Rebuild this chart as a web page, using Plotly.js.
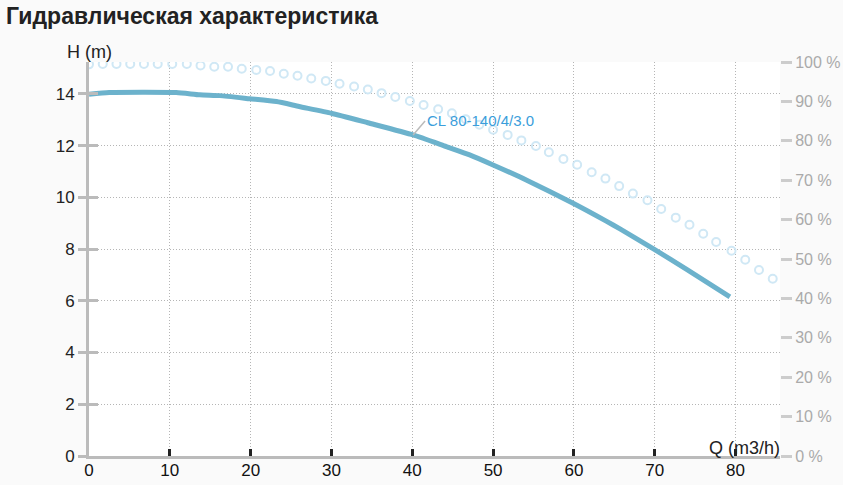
<!DOCTYPE html>
<html>
<head>
<meta charset="utf-8">
<script src="https://cdn.plot.ly/plotly-3.0.1.min.js"></script>
<style>
  html, body { margin: 0; padding: 0; background: #fafafa; }
  #chart { width: 843px; height: 485px; }
</style>
</head>
<body>
<div id="chart"></div>
<script>
// Кривая напора H(Q)
const flowQ = [0, 2.5, 10.8, 13.7, 16.2, 19.9, 23.2, 26.0, 30.0, 34.5, 40.1, 44.2, 47.1, 50.0, 54.1, 59.9, 64.0, 65.7, 70.0, 73.9, 79.3];
const headH = [13.98, 14.05, 14.05, 13.96, 13.93, 13.81, 13.70, 13.51, 13.25, 12.88, 12.41, 11.96, 11.64, 11.25, 10.67, 9.77, 9.08, 8.78, 7.98, 7.22, 6.15];

// Кривая КПД (кружки), %
const effQ = [0, 1.7, 3.4, 5.1, 6.8, 8.5, 10.3, 12.1, 13.8, 15.5, 17.2, 18.9, 20.7, 22.4, 24.1, 25.8, 27.5, 29.3, 31.0, 32.8,
              34.5, 36.2, 37.9, 39.7, 41.4, 43.2, 44.9, 46.6, 48.3, 50.0, 51.8, 53.5, 55.3, 56.9, 58.7, 60.4, 62.2, 63.9, 65.6, 67.3,
              69.1, 70.8, 72.6, 74.3, 76.0, 77.6, 79.5, 81.2, 82.9, 84.6];
const effPct = [99.4, 99.5, 99.5, 99.5, 99.5, 99.5, 99.5, 99.5, 99.1, 98.8, 98.8, 98.3, 98.0, 97.7, 97.0, 96.5, 95.8, 95.2, 94.5, 93.8,
                93.0, 92.1, 91.1, 90.1, 89.1, 88.0, 87.0, 85.5, 84.1, 82.8, 81.5, 80.1, 78.7, 77.1, 75.4, 73.9, 72.0, 70.4, 68.5, 66.6,
                64.9, 62.7, 60.5, 58.7, 56.4, 54.3, 52.1, 49.8, 47.2, 45.0];

const xTicks = [0, 10, 20, 30, 40, 50, 60, 70, 80];
const hTicks = [0, 2, 4, 6, 8, 10, 12, 14];
const pctTicks = [0, 10, 20, 30, 40, 50, 60, 70, 80, 90, 100];
const pctLabels = pctTicks.map(v => v + ' %');

const pumpName = 'CL 80-140/4/3.0';
const FONT = 'Arial, "Liberation Sans", sans-serif';
const H_MAX = 15.23;

const data = [
    {
        x: effQ, y: effPct, yaxis: 'y2',
        type: 'scatter', mode: 'markers',
        marker: { symbol: 'circle-open', size: 8, color: '#d0e8f5', line: { width: 2, color: '#d0e8f5' } },
        hoverinfo: 'skip'
    },
    {
        x: flowQ, y: headH,
        type: 'scatter', mode: 'lines',
        line: { color: '#6cb2cc', width: 5, shape: 'spline', smoothing: 0.5 },
        hoverinfo: 'skip'
    },
    // пустой след, чтобы ось с внутренними рисками точно отрисовалась
    { x: [null], y: [null], yaxis: 'y3', type: 'scatter', mode: 'markers', hoverinfo: 'skip' }
];

const layout = {
    width: 843, height: 485,
    margin: { l: 89, r: 63, t: 62, b: 29 },
    paper_bgcolor: '#fafafa',
    plot_bgcolor: '#ffffff',
    showlegend: false,
    font: { family: FONT, color: '#222' },
    title: {
        text: '<b>Гидравлическая характеристика</b>',
        font: { family: FONT, size: 23, color: '#222' },
        xref: 'container', yref: 'container',
        x: 0.007, xanchor: 'left', y: 0.967, yanchor: 'middle'
    },
    xaxis: {
        range: [0, 85.5], tickvals: xTicks, ticktext: xTicks.map(String),
        showgrid: true, gridcolor: '#b5b5b5', griddash: '1px,2px', gridwidth: 1,
        zeroline: false,
        showline: true, linecolor: '#bbb', linewidth: 3,
        ticks: 'inside', ticklen: 7, tickwidth: 3, tickcolor: '#222',
        ticklabelstandoff: -3,
        tickfont: { size: 17, color: '#111' },
        fixedrange: true
    },
    yaxis: {
        range: [0, H_MAX], tickvals: hTicks, ticktext: hTicks.map(String),
        showgrid: true, gridcolor: '#b5b5b5', griddash: '1px,2px', gridwidth: 1,
        zeroline: false,
        showline: true, linecolor: '#bbb', linewidth: 3,
        ticks: 'outside', ticklen: 8, tickwidth: 3, tickcolor: '#bbb',
        tickfont: { size: 17, color: '#222' },
        fixedrange: true
    },
    // та же шкала, только чтобы риски заходили внутрь поля
    yaxis3: {
        overlaying: 'y', anchor: 'x', side: 'left',
        range: [0, H_MAX], tickvals: hTicks,
        showticklabels: false, showgrid: false, zeroline: false, showline: false,
        ticks: 'inside', ticklen: 9, tickwidth: 3, tickcolor: '#bbb',
        fixedrange: true
    },
    yaxis2: {
        overlaying: 'y', side: 'right', anchor: 'x',
        range: [0, 100], tickvals: pctTicks, ticktext: pctLabels,
        showgrid: false, zeroline: false, showline: false,
        ticks: 'outside', ticklen: 11, tickwidth: 3, tickcolor: '#ccc',
        tickfont: { size: 16, color: '#aaa' },
        fixedrange: true
    },
    annotations: [
        {
            x: 40.1, y: 12.41, xref: 'x', yref: 'y',
            text: pumpName, showarrow: true, arrowhead: 0,
            arrowcolor: '#bbb', arrowwidth: 1.5,
            ax: 12, ay: -14, xanchor: 'left', yanchor: 'middle',
            font: { size: 15, color: '#3b9edb' }
        },
        {
            x: 0.001, y: 1.026, xref: 'paper', yref: 'paper',
            text: 'H (m)', showarrow: false,
            xanchor: 'center', yanchor: 'middle',
            font: { size: 18, color: '#222' }
        },
        {
            x: 1.003, y: 0.02, xref: 'paper', yref: 'paper',
            text: 'Q (m3/h)', showarrow: false,
            xanchor: 'right', yanchor: 'middle',
            font: { size: 18, color: '#222' }
        }
    ]
};

Plotly.newPlot('chart', data, layout, { staticPlot: true, displayModeBar: false });
</script>
</body>
</html>
